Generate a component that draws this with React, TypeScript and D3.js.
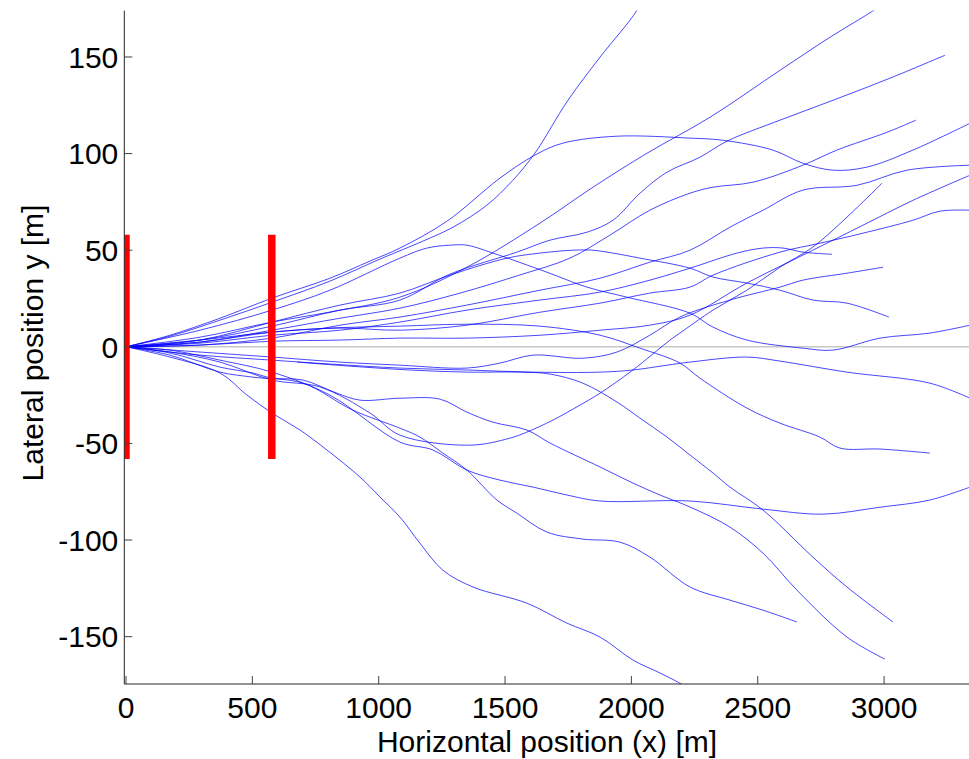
import React from "react";
import * as d3 from "d3";

// ---- Data (metres) ----
const xTicks = [0, 500, 1000, 1500, 2000, 2500, 3000];
const yTicks = [-150, -100, -50, 0, 50, 100, 150];
const barPositions = [0, 577];
const barHalfHeight = 58;
const xTitle = "Horizontal position (x) [m]";
const yTitle = "Lateral position y [m]";

const trajA = [[0,0],[174,5.5],[372,13.8],[578,23.1],[807,34],[1005,45.4],[1175,54.7],[1294,61.9],[1428,73.3],[1531,86.2],[1618,100.2],[1749,127.6],[1876,149.9],[2022,174.2],[2060,185]];
const trajB = [[0,0],[293,5],[578,12.8],[807,18],[1084,25.7],[1349,41.2],[1638,64],[1848,82.6],[2062,100.2],[2311,118.8],[2588,143.1],[2786,160.2],[2960,174.2],[3000,178]];
const trajC = [[0,0],[174,6],[372,14.8],[578,25.2],[807,35.5],[966,44.4],[1084,51.1],[1270,65],[1480,87.3],[1618,99.2],[1729,105.4],[1943,109],[2232,108],[2362,106.9],[2560,101.8],[2679,95],[2798,91.4],[2932,93],[3114,101.8],[3340,115.7]];
const trajD = [[0,0],[293,3.5],[578,10.7],[847,19],[1084,24.2],[1282,37.6],[1547,49],[1678,55.2],[1824,59.3],[1927,65.5],[2034,79.5],[2141,90.4],[2271,98.1],[2378,106.4],[2588,117.3],[2798,127.6],[3023,139],[3241,150.9]];
const trajE = [[0,0],[293,2.5],[578,8.6],[847,14.8],[1084,20],[1322,27.8],[1559,37.2],[1757,45.9],[1915,57.8],[2073,70.7],[2232,79.5],[2323,82.6],[2481,85.2],[2679,94],[2813,101.8],[3011,111],[3126,117.3]];
const trajF = [[0,0],[293,0.9],[578,4.5],[847,11.2],[1084,15.4],[1349,21.6],[1638,29.3],[1876,35.5],[2073,43.8],[2232,50],[2390,61.9],[2521,70.7],[2679,81.1],[2893,83.6],[3090,91.4],[3340,94]];
const trajG = [[0,0],[293,0.9],[578,2.9],[847,3.5],[1084,4.5],[1349,4.5],[1638,6],[1876,8.6],[2073,11.2],[2232,16.4],[2457,33],[2718,50],[2916,62.9],[3114,75.8],[3340,88.8]];
const trajH = [[0,0],[293,3.5],[578,7.6],[847,9.7],[1084,8.6],[1349,11.2],[1638,17.9],[1876,22.6],[2073,27.8],[2232,30.9],[2323,37.1],[2588,49],[2746,53.6],[2916,58.8],[3114,65.5],[3221,70.2],[3340,70.7]];
const trajI = [[0,0],[174,-2.7],[372,-7.9],[578,-17.2],[768,-20.8],[966,-34.3],[1084,-45.7],[1361,-50.9],[1519,-47.3],[1587,-44.1],[1690,-37.9],[1796,-30.2],[1876,-24],[2006,-12],[2153,3.5],[2192,7.1],[2323,19],[2457,29.3],[2588,41.2],[2718,51.6],[2853,67.1],[2992,84.7]];
const trajJ = [[0,0],[293,1.9],[578,6],[847,8.6],[1084,12.8],[1349,19],[1638,24.2],[1876,28.3],[2073,34.5],[2232,40.7],[2418,48.5],[2521,51.1],[2600,51.1],[2679,49],[2794,47.9]];
const trajK = [[0,0],[293,-2.7],[578,-5.3],[847,-7.9],[1084,-9.5],[1349,-11],[1480,-8.4],[1611,-4.3],[1808,-5.9],[1943,-2.7],[2073,6],[2192,15.4],[2390,24.2],[2588,30.9],[2679,34.5],[2853,38.1],[2996,41.2]];
const trajL = [[0,0],[293,3.5],[578,12.8],[847,21.6],[1084,27.8],[1282,37.1],[1508,45.9],[1638,48.5],[1769,50],[1848,50],[1927,48.5],[2034,45.9],[2232,40.7],[2323,36.1],[2457,33],[2588,29.3],[2718,24.2],[2853,22.6],[3019,15.4]];
const trajM = [[0,0],[293,8.6],[578,19],[807,29.3],[1084,45.9],[1191,51.1],[1282,52.6],[1349,52.6],[1452,48.5],[1666,38.6],[1824,30.9],[1982,25.7],[2232,17.4],[2323,10.2],[2457,3.5],[2679,-0.7],[2798,-1.7],[2984,4.5],[3181,7.1],[3340,11.2]];
const trajN = [[0,0],[293,-4.3],[578,-6.9],[807,-8.9],[1084,-11],[1349,-12],[1611,-13.1],[1876,-13.1],[2006,-12],[2141,-9.5],[2232,-7.9],[2457,-5.3],[2588,-7.4],[2853,-13.1],[3181,-18.8],[3340,-26.6]];
const trajO = [[0,0],[293,2.4],[578,7.6],[807,9.7],[1084,10.7],[1349,11.7],[1638,10.7],[1876,6],[2034,-0.7],[2192,-8.4],[2271,-16.2],[2457,-31.7],[2588,-39.5],[2746,-46.7],[2825,-52.4],[2984,-52.9],[3181,-55]];
const trajP = [[0,0],[174,-1.7],[372,-6.9],[578,-13.1],[807,-25],[1084,-49.3],[1215,-53.4],[1349,-63.8],[1480,-69],[1611,-72.6],[1745,-76.7],[1876,-79.8],[2232,-79.8],[2521,-84],[2758,-86.6],[2984,-83],[3181,-79.3],[3340,-72.6]];
const trajQ = [[677,-7.9],[886,-10],[1124,-12],[1349,-13.1],[1559,-13.1],[1678,-14.1],[1808,-18.8],[1943,-28.6],[2034,-36.9],[2141,-46.7],[2232,-56],[2323,-65.3],[2390,-72.6],[2521,-84.5],[2718,-108.8],[2853,-124.3],[3035,-142.4]];
const trajR = [[0,0],[174,-3.2],[372,-10.5],[503,-13.6],[578,-16.2],[700,-17.2],[835,-24],[926,-27.6],[1084,-26.6],[1243,-27.1],[1349,-33.8],[1452,-39],[1587,-43.1],[1678,-49.8],[1876,-62.2],[2006,-70.5],[2113,-76.7],[2232,-82.9],[2390,-93.3],[2521,-106.8],[2655,-125.9],[2853,-150.2],[3003,-161.6]];
const trajS = [[0,0],[174,-4.3],[372,-13.1],[503,-15.7],[700,-18.8],[898,-32.8],[1084,-42.1],[1163,-46.7],[1254,-55],[1349,-63.8],[1468,-79.3],[1547,-86.1],[1666,-95.9],[1808,-99.5],[1955,-101.1],[2073,-108.8],[2232,-124.3],[2390,-131.1],[2521,-136.3],[2655,-142.4]];
const trajT = [[0,0],[174,-5.3],[372,-13.6],[479,-25],[578,-34.3],[689,-43.1],[795,-53.4],[926,-67.4],[1005,-77.7],[1084,-88.1],[1163,-101.6],[1254,-115.6],[1373,-124.3],[1587,-132.7],[1745,-143],[1876,-150.2],[2006,-162.1],[2113,-168.8],[2204,-175],[2260,-180]];

const trajectories = [trajA, trajB, trajC, trajD, trajE, trajF, trajG, trajH, trajI, trajJ, trajK, trajL, trajM, trajN, trajO, trajP, trajQ, trajR, trajS, trajT];

const W = 969;
const H = 759;
const plot = { left: 124.3, right: 970, top: 10.6, bottom: 684 };
const font = "'Liberation Sans', Arial, Helvetica, sans-serif";

export default function App() {
  const x = d3.scaleLinear().domain([-6.7, 3340]).range([plot.left, plot.right]);
  const y = d3.scaleLinear().domain([-174.5, 174]).range([plot.bottom, plot.top]);
  const line = d3
    .line<number[]>()
    .x((d) => x(d[0]))
    .y((d) => y(d[1]))
    .curve(d3.curveCatmullRom.alpha(0.5));

  return (
    <svg
      width={W}
      height={H}
      viewBox={`0 0 ${W} ${H}`}
      style={{ position: "absolute", left: 0, top: 0, background: "#fff" }}
    >
      <defs>
        <clipPath id="plotClip">
          <rect x={plot.left} y={plot.top} width={plot.right - plot.left} height={plot.bottom - plot.top} />
        </clipPath>
      </defs>
      <rect x={0} y={0} width={W} height={H} fill="#fff" />
      <g clipPath="url(#plotClip)">
        <line x1={x(0)} x2={x(3340)} y1={y(0)} y2={y(0)} stroke="#c8c8c8" strokeWidth={1.6} />
        {trajectories.map((t, i) => (
          <path key={i} d={line(t) || ""} fill="none" stroke="#0000ff" strokeWidth={0.9} strokeOpacity={0.8} />
        ))}
        {barPositions.map((b, i) => (
          <line key={i} x1={x(b)} x2={x(b)} y1={y(barHalfHeight)} y2={y(-barHalfHeight)} stroke="#ff0000" strokeWidth={7.5} />
        ))}
      </g>
      {/* axes */}
      <line x1={plot.left} x2={plot.left} y1={plot.top} y2={plot.bottom} stroke="#262626" strokeWidth={1} />
      <line x1={plot.left} x2={W} y1={plot.bottom} y2={plot.bottom} stroke="#262626" strokeWidth={1} />
      {yTicks.map((t) => (
        <g key={t}>
          <line x1={plot.left} x2={plot.left + 8} y1={y(t)} y2={y(t)} stroke="#404040" strokeWidth={1} />
          <text x={plot.left - 6} y={y(t)} dy="0.36em" textAnchor="end" fontFamily={font} fontSize={30} fill="#000">
            {t}
          </text>
        </g>
      ))}
      {xTicks.map((t) => (
        <g key={t}>
          <line x1={x(t)} x2={x(t)} y1={plot.bottom} y2={plot.bottom - 8} stroke="#404040" strokeWidth={1} />
          <text x={x(t)} y={718} textAnchor="middle" fontFamily={font} fontSize={30} fill="#000">
            {t}
          </text>
        </g>
      ))}
      <text x={547} y={752} textAnchor="middle" fontFamily={font} fontSize={30} fill="#000">
        {xTitle}
      </text>
      <text
        transform={`translate(43, 343) rotate(-90)`}
        textAnchor="middle"
        fontFamily={font}
        fontSize={30}
        fill="#000"
      >
        {yTitle}
      </text>
    </svg>
  );
}
